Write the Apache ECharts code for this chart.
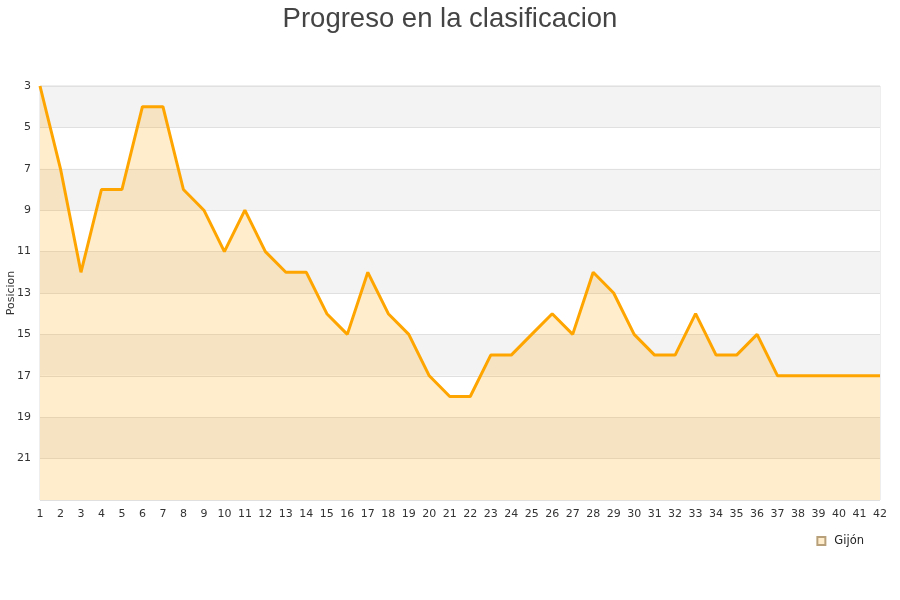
<!DOCTYPE html>
<html><head><meta charset="utf-8">
<script src="https://cdn.jsdelivr.net/npm/echarts@6/dist/echarts.min.js"></script>
<style>html,body{margin:0;padding:0;background:#fff}#c{width:900px;height:600px}</style>
</head><body><div id="c"></div>
<script>
var titleText = 'Progreso en la clasificacion';
var seriesName = 'Gijón';
var jornadas = [];
for (var i = 1; i <= 42; i++) jornadas.push(String(i));
var posiciones = [3,7,12,8,8,4,4,8,9,11,9,11,12,12,14,15,12,14,15,17,18,18,16,16,15,14,15,12,13,15,16,16,14,16,16,15,17,17,17,17,17,17];

var chart = echarts.init(document.getElementById('c'), null, {renderer:'canvas'});
chart.setOption({
  animation:false,
  title:{text:titleText,left:'center',top:0,textStyle:{fontFamily:'Liberation Sans',fontSize:27.5,fontWeight:'normal',color:'#444'}},
  legend:{data:[{name:seriesName,icon:'rect'}],right:31,top:530,itemWidth:8,itemHeight:8,
    textStyle:{fontFamily:'DejaVu Sans',fontSize:11.5,color:'#222',padding:[0,0,0,4]}},
  grid:{left:40,right:20,top:86,bottom:100,containLabel:false,outerBoundsMode:'none',show:true,borderColor:'#ddd',borderWidth:1,backgroundColor:'transparent'},
  xAxis:{type:'category',data:jornadas,boundaryGap:false,
    axisLine:{show:false},axisTick:{show:false},
    axisLabel:{interval:0,margin:9,fontFamily:'DejaVu Sans',fontSize:11,color:'#333'},
    splitLine:{show:false}},
  yAxis:{type:'value',inverse:true,min:3,max:23,interval:2,name:'Posicion',nameLocation:'middle',nameGap:23,nameMoveOverlap:false,
    nameTextStyle:{fontFamily:'DejaVu Sans',fontSize:11,color:'#333'},
    axisLine:{show:false},axisTick:{show:false},
    axisLabel:{fontFamily:'DejaVu Sans',fontSize:11,color:'#333',margin:9,
      formatter:function(v){return v===23?'':String(v);}},
    splitLine:{show:true,lineStyle:{color:'#e0e0e0',width:1}},
    splitArea:{show:true,areaStyle:{color:['#f3f3f3','#ffffff']}}},
  series:[{name:seriesName,type:'line',data:posiciones,symbol:'none',
    lineStyle:{color:'#ffa500',width:3},
    itemStyle:{color:'#ffedcc',borderColor:'#b8a07a',borderWidth:1},
    areaStyle:{color:'rgba(255,165,0,0.2)',opacity:1,origin:'end'}}]
});
</script></body></html>
